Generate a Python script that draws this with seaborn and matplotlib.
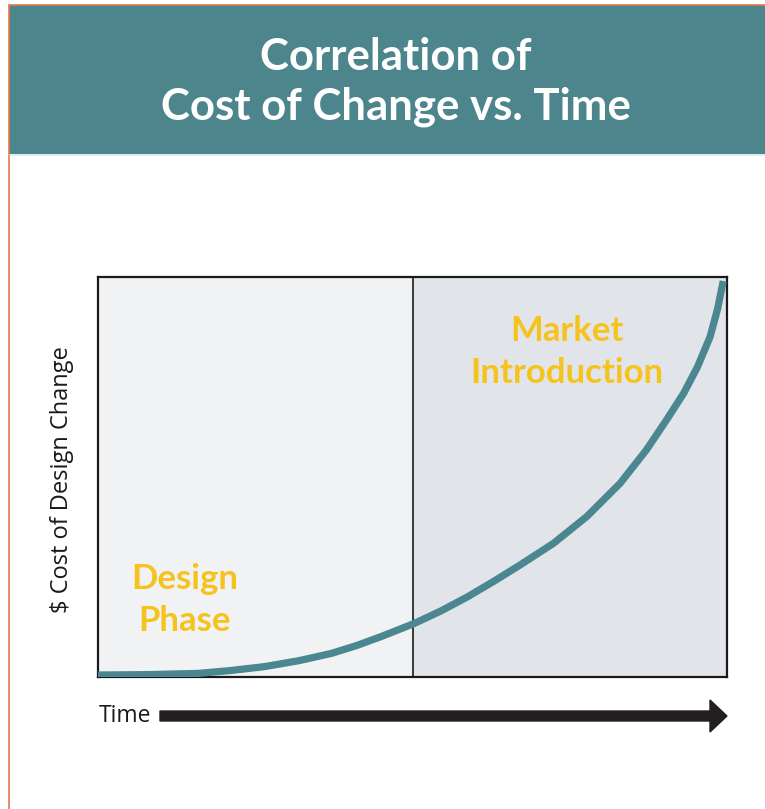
import matplotlib
matplotlib.use("Agg")
import matplotlib.pyplot as plt
import seaborn as sns
import pandas as pd
from matplotlib.patches import Rectangle, FancyArrow
from matplotlib.lines import Line2D

# ---- data ----
time_pts = [0, 8, 15.9, 21, 26.5, 32, 37.1, 41, 45, 50.3, 54.5, 58.7, 63, 67.1,
            72.4, 77.7, 83.0, 87.2, 90.4, 93.1, 95.3, 97.3, 98.5, 99.4]
cost_pts = [0.5, 0.6, 0.9, 1.6, 2.6, 4.1, 5.9, 7.8, 10.1, 13.4, 16.5, 20.0, 24.0, 28.0,
            33.4, 40.1, 48.4, 56.8, 64.3, 70.9, 77.5, 85.0, 92.0, 99.0]
phase_names = ["Design\nPhase", "Market\nIntroduction"]
phase_starts = [0, 50]
phase_ends = [50, 100]
title_text = "Correlation of\nCost of Change vs. Time"
ylabel_text = "$ Cost of Design Change"
xlabel_text = "Time"

TEAL = "#4d858d"
CURVE = "#4a8790"
YELLOW = "#f6c21c"
PANEL_COLORS = ["#f1f2f4", "#e1e4e8"]

sns.set_style("white")
plt.rcParams["font.family"] = ["Lato", "DejaVu Sans"]

W, H = 765, 809
fig = plt.figure(figsize=(W / 100, H / 100), dpi=100)
fig.patch.set_facecolor("white")

# header band
fig.patches.append(Rectangle((9 / W, 1 - 154 / H), 1 - 9 / W, (154 - 5) / H,
                             transform=fig.transFigure, facecolor=TEAL, edgecolor="none", zorder=0))
fig.lines.append(Line2D([9 / W, 1], [1 - 5 / H, 1 - 5 / H], transform=fig.transFigure,
                        color="#e8774c", lw=1.2))
fig.lines.append(Line2D([9 / W, 9 / W], [0, 1 - 5 / H], transform=fig.transFigure,
                        color="#e8774c", lw=1.2))
fig.lines.append(Line2D([10 / W, 1], [1 - 155 / H, 1 - 155 / H], transform=fig.transFigure,
                        color="#d3ecee", lw=1.2))

fig.text(396 / W, 1 - 82 / H, title_text, ha="center", va="center", color="white",
         fontsize=31.5, fontweight="bold", linespacing=1.3, family=["Lato", "DejaVu Sans"])

ax = fig.add_axes([98 / W, 1 - 677 / H, 629 / W, 400 / H])
df = pd.DataFrame({"time": time_pts, "cost": cost_pts})

for s, e, c in zip(phase_starts, phase_ends, PANEL_COLORS):
    ax.axvspan(s, e, facecolor=c, edgecolor="none", zorder=0)
ax.axvline(phase_starts[1], color="#1a1a1a", lw=1.2, zorder=1)

sns.lineplot(data=df, x="time", y="cost", ax=ax, color=CURVE, lw=5.2, zorder=3,
             solid_capstyle="butt")

ax.set_xlim(0, 100)
ax.set_ylim(0, 100)
ax.set_xticks([])
ax.set_yticks([])
ax.set_xlabel("")
ax.set_ylabel("")
for sp in ax.spines.values():
    sp.set_visible(True)
    sp.set_color("#1a1a1a")
    sp.set_linewidth(1.6)

ax.text(13.8, 19.25, phase_names[0], ha="center", va="center", color=YELLOW,
        fontsize=25, fontweight="bold", linespacing=1.4)
ax.text(74.6, 81.25, phase_names[1], ha="center", va="center", color=YELLOW,
        fontsize=25, fontweight="bold", linespacing=1.4)

fig.text(62 / W, 1 - 480 / H, ylabel_text, rotation=90, ha="center", va="center",
         fontsize=17, color="#1a1a1a", family=["Open Sans", "DejaVu Sans"])
fig.text(99 / W, 1 - 716 / H, xlabel_text, ha="left", va="center",
         fontsize=16.5, color="#1a1a1a", family=["Open Sans", "DejaVu Sans"])

# time arrow (inches)
arr = FancyArrow(1.60, (H - 716) / 100, 7.27 - 1.60, 0, width=0.10, head_width=0.32,
                 head_length=0.17, length_includes_head=True, color="#231f20",
                 transform=fig.dpi_scale_trans)
fig.patches.append(arr)

fig.savefig("out.png", dpi=100)
